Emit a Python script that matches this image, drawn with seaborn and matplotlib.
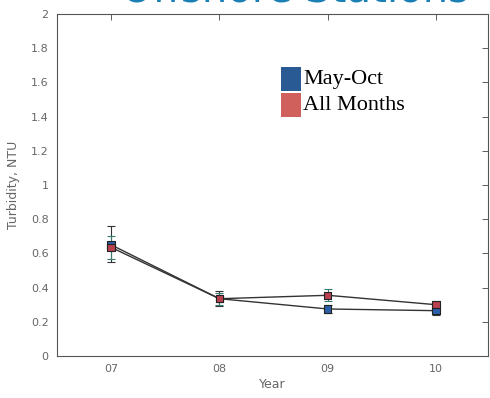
import matplotlib
matplotlib.use("Agg")
import matplotlib.pyplot as plt
import seaborn as sns
import pandas as pd
import numpy as np
from matplotlib.patches import Rectangle

years = [7, 8, 9, 10]
year_labels = ["07", "08", "09", "10"]
may_oct = [0.65, 0.335, 0.275, 0.265]
may_oct_lo = [0.55, 0.29, 0.25, 0.24]
may_oct_hi = [0.76, 0.38, 0.30, 0.29]
all_months = [0.635, 0.335, 0.355, 0.30]
all_months_lo = [0.57, 0.30, 0.32, 0.27]
all_months_hi = [0.70, 0.37, 0.39, 0.32]
yticks = [0, 0.2, 0.4, 0.6, 0.8, 1, 1.2, 1.4, 1.6, 1.8, 2]
ytick_labels = ["0", "0.2", "0.4", "0.6", "0.8", "1", "1.2", "1.4", "1.6", "1.8", "2"]

sns.set_style("white")
plt.rcParams['font.family'] = ['DejaVu Sans']

fig = plt.figure(figsize=(4.9, 3.98), dpi=100)
ax = fig.add_axes([57/490, 42/398, 431/490, 342/398])

df = pd.DataFrame({
    "Year": years * 2,
    "Turbidity": may_oct + all_months,
    "Series": ["May-Oct"] * 4 + ["All Months"] * 4,
})

gray = "#666666"
ax.errorbar(years, may_oct, yerr=[np.array(may_oct) - np.array(may_oct_lo), np.array(may_oct_hi) - np.array(may_oct)],
            fmt='none', ecolor="#333333", elinewidth=0.8, capsize=3, capthick=0.8, zorder=2)
ax.errorbar(years, all_months, yerr=[np.array(all_months) - np.array(all_months_lo), np.array(all_months_hi) - np.array(all_months)],
            fmt='none', ecolor="#3a7a70", elinewidth=0.8, capsize=3, capthick=0.8, zorder=2)

sns.lineplot(data=df, x="Year", y="Turbidity", hue="Series", units="Series", estimator=None,
             palette={"May-Oct": "#333333", "All Months": "#333333"}, linewidth=1.0,
             legend=False, ax=ax, zorder=3)
sns.scatterplot(data=df, x="Year", y="Turbidity", hue="Series",
                palette={"May-Oct": "#2b5fa8", "All Months": "#b8414f"},
                marker="s", s=28, edgecolor="#222222", linewidth=0.8, legend=False, ax=ax, zorder=4)

ax.set_xlim(6.5, 10.48)
ax.set_ylim(0, 2)
ax.set_xticks(years)
ax.set_xticklabels(year_labels)
ax.set_yticks(yticks)
ax.set_yticklabels(ytick_labels)
ax.tick_params(direction='in', length=4, width=0.6, color="#444444", labelcolor=gray, labelsize=8,
               top=True, right=True, pad=6)
for s in ax.spines.values():
    s.set_color("#555555")
    s.set_linewidth(0.8)
ax.set_xlabel("Year", color=gray, fontsize=9, labelpad=3)
ax.set_ylabel("Turbidity, NTU", color=gray, fontsize=9, labelpad=8)

# legend
fig.patches.append(Rectangle((281/490, 1 - 91/398), 20/490, 24/398, transform=fig.transFigure,
                             facecolor="#2a5a94", edgecolor="none", zorder=10))
fig.patches.append(Rectangle((281/490, 1 - 117/398), 20/490, 24/398, transform=fig.transFigure,
                             facecolor="#d0605c", edgecolor="none", zorder=10))
fig.text(303/490, 1 - 84/398, "May-Oct", family="Liberation Serif", fontsize=16, color="black", va="baseline")
fig.text(303/490, 1 - 110/398, "All Months", family="Liberation Serif", fontsize=16, color="black", va="baseline")

fig.text(295/490, 1 - 2/398, "Offshore Stations", fontsize=29, color="#1a80b4", ha="center", va="baseline")

fig.savefig("out.png", dpi=100)
